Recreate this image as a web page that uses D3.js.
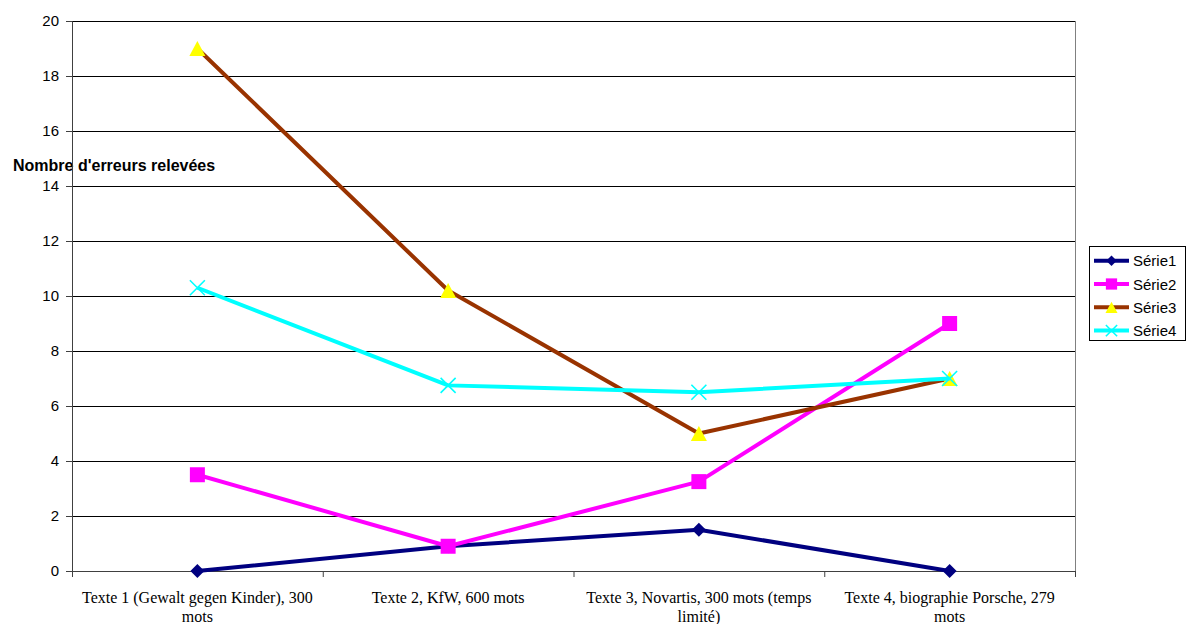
<!DOCTYPE html>
<html>
<head>
<meta charset="utf-8">
<script src="https://cdn.jsdelivr.net/npm/d3@7"></script>
<style>
  body { margin: 0; background: #fff; }
  svg { display: block; }
</style>
</head>
<body>
<svg id="chart" width="1189" height="624"></svg>
<script>
// categories, one array of lines per label
const categories = [
  ["Texte 1 (Gewalt gegen Kinder), 300", "mots"],
  ["Texte 2, KfW, 600 mots"],
  ["Texte 3, Novartis, 300 mots (temps", "limité)"],
  ["Texte 4, biographie Porsche, 279", "mots"]
];
const serie1 = [0, 0.9, 1.5, 0];
const serie2 = [3.5, 0.9, 3.25, 9];
const serie3 = [19, 10.2, 5, 7];
const serie4 = [10.3, 6.75, 6.5, 7];
const seriesNames = ["Série1", "Série2", "Série3", "Série4"];
const yTicks = [0, 2, 4, 6, 8, 10, 12, 14, 16, 18, 20];

const svg = d3.select("#chart");
const plotL = 72, plotR = 1075, plotT = 21, plotB = 571;

const x = d3.scaleBand().domain(d3.range(categories.length)).range([plotL, plotR]);
const y = d3.scaleLinear().domain([0, 20]).range([plotB, plotT]);
const cx = i => x(i) + x.bandwidth() / 2;

// marker paths, centred on 0,0; r is half the marker size
const shapes = {
  diamond: r => `M0,${-r}L${r},0L0,${r}L${-r},0Z`,
  square: r => `M${-r},${-r}H${r}V${r}H${-r}Z`,
  triangle: r => `M0,${-r}L${r * 1.07},${r}L${-r * 1.07},${r}Z`,
  cross: r => `M${-r},${-r}L${r},${r}M${-r},${r}L${r},${-r}`
};
const styles = [
  { line: "#000080", fill: "#000080", shape: "diamond", r: 7 },
  { line: "#ff00ff", fill: "#ff00ff", shape: "square", r: 7.5 },
  { line: "#993300", fill: "#ffff00", shape: "triangle", r: 7.5 },
  { line: "#00ffff", fill: "none", shape: "cross", r: 7.5 }
];
const data = [serie1, serie2, serie3, serie4];

function marker(g, s, px, py, scale) {
  const p = g.append("path")
    .attr("d", shapes[s.shape](s.r * scale))
    .attr("transform", `translate(${px},${py})`);
  if (s.shape === "cross") {
    p.attr("fill", "none").attr("stroke", s.line).attr("stroke-width", 1.6);
  } else {
    p.attr("fill", s.fill);
  }
}

// y title (axis drawn over it, as in the original)
svg.append("text")
  .attr("x", 13).attr("y", 170.5)
  .attr("font-family", "'Liberation Sans', Arial, sans-serif")
  .attr("font-size", 16).attr("font-weight", "bold")
  .text("Nombre d'erreurs relevées");

// gridlines
svg.append("g")
  .selectAll("line")
  .data(yTicks.filter(t => t > 0))
  .join("line")
  .attr("x1", plotL).attr("x2", plotR)
  .attr("y1", d => y(d)).attr("y2", d => y(d))
  .attr("stroke", "#000")
  .attr("shape-rendering", "crispEdges");

// right border of the plot area
svg.append("line")
  .attr("x1", plotR).attr("x2", plotR).attr("y1", plotT).attr("y2", plotB)
  .attr("stroke", "#808080").attr("shape-rendering", "crispEdges");

// y axis
const yAxis = svg.append("g")
  .attr("transform", `translate(${plotL},0)`)
  .call(d3.axisLeft(y).tickValues(yTicks).tickSize(6).tickPadding(7));
yAxis.select(".domain").attr("stroke", "#404040");
yAxis.selectAll(".tick line").attr("stroke", "#404040");
yAxis.selectAll("text")
  .attr("font-family", "'Liberation Sans', Arial, sans-serif")
  .attr("font-size", 15).attr("fill", "#000");

// x axis: ticks at category boundaries
const xb = d3.scaleLinear().domain([0, categories.length]).range([plotL, plotR]);
const xAxis = svg.append("g")
  .attr("transform", `translate(0,${plotB})`)
  .call(d3.axisBottom(xb).ticks(categories.length).tickSize(6).tickFormat(""));
xAxis.select(".domain").attr("stroke", "#404040");
xAxis.selectAll(".tick line").attr("stroke", "#404040");

svg.append("g")
  .selectAll("text")
  .data(categories)
  .join("text")
  .attr("x", (d, i) => cx(i))
  .attr("y", 602.5)
  .attr("text-anchor", "middle")
  .attr("font-family", "'Liberation Serif', 'Times New Roman', serif")
  .attr("font-size", 16)
  .selectAll("tspan")
  .data(d => d)
  .join("tspan")
  .attr("x", function() { return d3.select(this.parentNode).attr("x"); })
  .attr("dy", (d, i) => i === 0 ? 0 : 19)
  .text(d => d);

// series
const line = d3.line().x((d, i) => cx(i)).y(d => y(d));

data.forEach((vals, k) => {
  const s = styles[k];
  const g = svg.append("g");
  g.append("path")
    .attr("d", line(vals))
    .attr("fill", "none")
    .attr("stroke", s.line)
    .attr("stroke-width", 4)
    .attr("stroke-linejoin", "round");
  vals.forEach((v, i) => marker(g, s, cx(i), y(v), 1));
});

// legend
const legend = svg.append("g");
legend.append("rect")
  .attr("x", 1089.5).attr("y", 246.5).attr("width", 96).attr("height", 94)
  .attr("fill", "#fff").attr("stroke", "#000");
seriesNames.forEach((name, k) => {
  const s = styles[k];
  const ly = 260.7 + k * 23.3;
  legend.append("line")
    .attr("x1", 1094).attr("x2", 1129).attr("y1", ly).attr("y2", ly)
    .attr("stroke", s.line).attr("stroke-width", 4);
  marker(legend, s, 1111.5, ly, 0.75);
  legend.append("text")
    .attr("x", 1133).attr("y", ly + 5.5)
    .attr("font-family", "'Liberation Sans', Arial, sans-serif")
    .attr("font-size", 15)
    .text(name);
});
</script>
</body>
</html>
